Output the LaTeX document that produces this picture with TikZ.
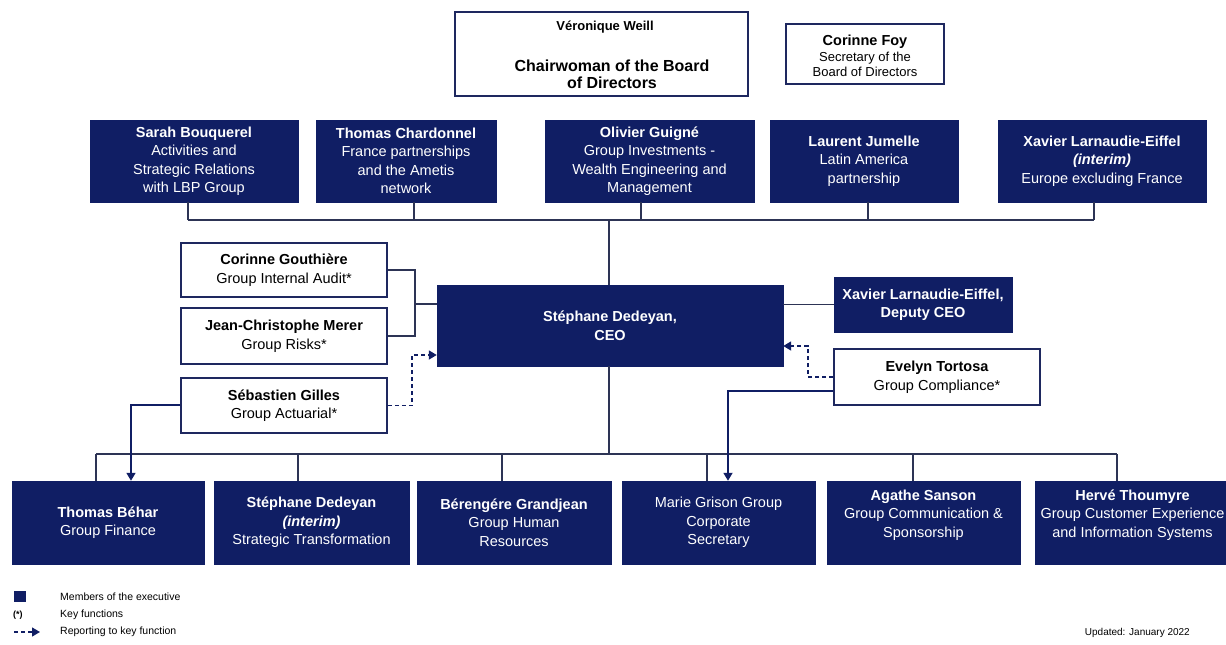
\documentclass[tikz,border=0pt]{standalone}
\usepackage{fontspec}
\setmainfont{Liberation Sans}
\usetikzlibrary{arrows.meta}
\definecolor{navy}{RGB}{16,30,100}
\definecolor{linec}{RGB}{45,52,85}
\definecolor{bordc}{RGB}{30,40,95}
\begin{document}
\begin{tikzpicture}[x=1pt,y=-1pt,
  exec/.style={fill=navy,draw=navy,text=white,inner sep=0pt,align=center,font=\fontsize{14.5}{18.5}\selectfont},
  keyf/.style={fill=white,draw=bordc,line width=1.6pt,inner sep=0pt,align=center,font=\fontsize{14.5}{18.5}\selectfont},
  conn/.style={draw=linec,line width=1.7pt},
  arr/.style={-{Triangle[width=9pt,length=8pt]},draw=navy},
  dsh/.style={conn,dash pattern=on 4pt off 3pt},
  legtxt/.style={anchor=west,inner sep=0pt,font=\fontsize{10.5}{12}\selectfont}]
\useasboundingbox (0,0) rectangle (1226,645);

% Board
\node[keyf,line width=2pt,minimum width=293pt,minimum height=84pt] (chair) at (601.5,54) {};
\node[inner sep=0pt,font=\fontsize{13}{15}\selectfont\bfseries] (chairname) at (605,27) {Véronique Weill};
\node[inner sep=0pt,align=center,font=\fontsize{16}{17}\selectfont\bfseries] (chairtitle) at (612,74) {Chairwoman of the Board\\of Directors};
\node[keyf,minimum width=158pt,minimum height=60pt,font=\fontsize{13}{15.5}\selectfont] (foy) at (865,54) {};
\node[inner sep=0pt,align=center,font=\fontsize{13}{15.5}\selectfont] (foytext) at (865,56) {{\fontsize{14.5}{15.5}\selectfont\bfseries Corinne Foy}\\Secretary of the\\Board of Directors};

% Second row
\node[exec,minimum width=208pt,minimum height=82pt] (sarah) at (194,161) {\textbf{Sarah Bouquerel}\\Activities and\\Strategic Relations\\with LBP Group};
\node[exec,minimum width=180pt,minimum height=82pt] (chard) at (406,161) {\textbf{Thomas Chardonnel}\\France partnerships\\and the Ametis\\network};
\node[exec,minimum width=209pt,minimum height=82pt] (guigne) at (649.5,161) {\textbf{Olivier Guigné}\\Group Investments -\\Wealth Engineering and\\Management};
\node[exec,minimum width=188pt,minimum height=82pt] (jumelle) at (864,161) {\textbf{Laurent Jumelle}\\Latin America\\partnership};
\node[exec,minimum width=208pt,minimum height=82pt] (xavier) at (1102,161) {\textbf{Xavier Larnaudie-Eiffel}\\\textbf{\textit{(interim)}}\\Europe excluding France};

\coordinate (b1) at (188,220);
\coordinate (b2) at (414,220);
\coordinate (b3) at (641,220);
\coordinate (b4) at (868,220);
\coordinate (b5) at (1094,220);
\coordinate (bc) at (609,220);

% CEO level
\node[exec,minimum width=346pt,minimum height=81pt,font=\fontsize{14.5}{19}\selectfont\bfseries] (ceo) at (610,325.5) {Stéphane Dedeyan,\\CEO};
\node[exec,minimum width=178pt,minimum height=55pt,font=\fontsize{14.5}{18.5}\selectfont\bfseries] (xavd) at (923,304.5) {Xavier Larnaudie-Eiffel,\\Deputy CEO};
\node[keyf,minimum width=206pt,minimum height=54pt] (gouth) at (284,270) {\textbf{Corinne Gouthière}\\Group Internal Audit*};
\node[keyf,minimum width=206pt,minimum height=56pt] (merer) at (284,336) {\textbf{Jean-Christophe Merer}\\Group Risks*};
\node[keyf,minimum width=206pt,minimum height=55pt] (gilles) at (284,405.5) {\textbf{Sébastien Gilles}\\Group Actuarial*};
\node[keyf,minimum width=206pt,minimum height=56pt] (tortosa) at (937,377) {\textbf{Evelyn Tortosa}\\Group Compliance*};

% Bottom row
\node[exec,minimum width=192pt,minimum height=83pt] (behar) at (108,522.5) {\textbf{Thomas Béhar}\\Group Finance};
\node[exec,minimum width=195pt,minimum height=83pt] (dedeyan) at (311.5,522.5) {\textbf{Stéphane Dedeyan}\\\textbf{\textit{(interim)}}\\Strategic Transformation};
\node[exec,minimum width=194pt,minimum height=83pt] (grandjean) at (514,522.5) {\textbf{Bérengére Grandjean}\\Group Human\\Resources};
\node[exec,minimum width=193pt,minimum height=83pt] (grison) at (718.5,522.5) {Marie Grison Group\\Corporate\\Secretary};
\node[exec,minimum width=193pt,minimum height=83pt] (sanson) at (923.5,522.5) {\textbf{Agathe Sanson}\\Group Communication \&\\Sponsorship\\\mbox{}};
\node[exec,minimum width=195pt,minimum height=83pt] (thoumyre) at (1132.5,522.5) {\textbf{Hervé Thoumyre}\\Group Customer Experience\\and Information Systems\\\mbox{}};

\coordinate (d1) at (96,454);
\coordinate (d2) at (298,454);
\coordinate (d3) at (502,454);
\coordinate (d4) at (707,454);
\coordinate (d5) at (913,454);
\coordinate (d6) at (1117,454);
\coordinate (dc) at (609,454);

% Connectors: board row
\draw[conn] (b1) -- (b5);
\draw[conn] (b1) -- (b1 |- sarah.south);
\draw[conn] (b2) -- (b2 |- chard.south);
\draw[conn] (b3) -- (b3 |- guigne.south);
\draw[conn] (b4) -- (b4 |- jumelle.south);
\draw[conn] (b5) -- (b5 |- xavier.south);
\draw[conn] (bc) -- (bc |- ceo.north);

% CEO level connectors
\draw[conn] (ceo.east |- xavd.west) -- (xavd.west);
\coordinate (lg) at (415,304);
\draw[conn] (gouth.east) -| (lg) |- (merer.east);
\draw[conn] (lg) -- (lg -| ceo.west);
\coordinate (gd) at (412,355);
\draw[dsh,arr] (gilles.east) -| (gd) -- (gd -| ceo.west);
\coordinate (td) at (808,346);
\draw[dsh,arr] (tortosa.west) -| (td) -- (td -| ceo.east);

% Bottom bus
\draw[conn] (ceo.south -| dc) -- (dc);
\draw[conn] (d1) -- (d6);
\draw[conn] (d1) -- (d1 |- behar.north);
\draw[conn] (d2) -- (d2 |- dedeyan.north);
\draw[conn] (d3) -- (d3 |- grandjean.north);
\draw[conn] (d4) -- (d4 |- grison.north);
\draw[conn] (d5) -- (d5 |- sanson.north);
\draw[conn] (d6) -- (d6 |- thoumyre.north);

% Key function reporting
\coordinate (ga) at (131,405);
\coordinate (ta) at (728,391);
\draw[conn,arr] (ga -| gilles.west) -- (ga) -- (ga |- behar.north);
\draw[conn,arr] (ta -| tortosa.west) -- (ta) -- (ta |- grison.north);

% Legend
\node[fill=navy,minimum width=12pt,minimum height=11pt,inner sep=0pt] (legsq) at (20,596.5) {};
\node[legtxt] (leg1) at (60,597) {Members of the executive};
\node[anchor=west,inner sep=0pt,font=\fontsize{9}{10}\selectfont\bfseries] (legstar) at (13,615) {(*)};
\node[legtxt] (leg2) at (60,615) {Key functions};
\coordinate (la) at (14,632);
\coordinate (lb) at (40,632);
\draw[dsh,arr,line width=1.3pt] (la) -- (lb);
\node[legtxt] (leg3) at (60,632) {Reporting to key function};
\node[anchor=east,inner sep=0pt,font=\fontsize{10}{12}\selectfont] (upd) at (1190,633) {Updated: January 2022};
\end{tikzpicture}
\end{document}
